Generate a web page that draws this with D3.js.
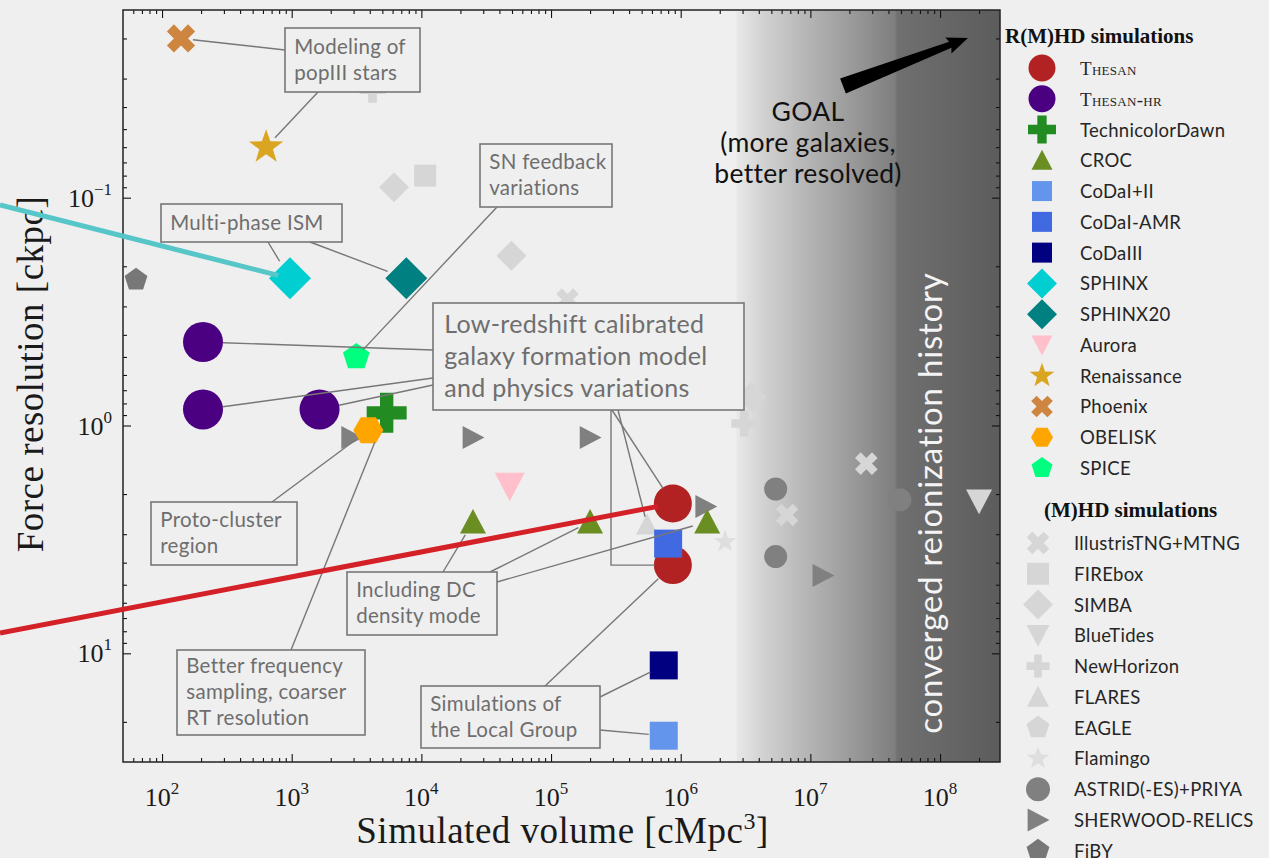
<!DOCTYPE html>
<html>
<head>
<meta charset="utf-8">
<script src="https://cdn.jsdelivr.net/npm/d3@7"></script>
<style>
body{margin:0;background:#efefef;overflow:hidden}
svg{display:block}
.serif{font-family:"Liberation Serif","Times New Roman",serif}
</style>
</head>
<body>
<div id="chart"></div>
<script>
var W = 1269, H = 858
var plot = {left:123, right:1000, top:10, bottom:762}

// R(M)HD simulations (legend order)
var rmhdNames = ["Thesan","Thesan-HR","TechnicolorDawn","CROC","CoDaI+II","CoDaI-AMR","CoDaIII",
                 "SPHINX","SPHINX20","Aurora","Renaissance","Phoenix","OBELISK","SPICE"]
// (M)HD simulations (legend order)
var mhdNames = ["IllustrisTNG+MTNG","FIREbox","SIMBA","BlueTides","NewHorizon","FLARES","EAGLE",
                "Flamingo","ASTRID(-ES)+PRIYA","SHERWOOD-RELICS","FiBY"]

// [simulation, volume cMpc^3, force resolution ckpc]
var rmhdPoints = [
  ["Thesan", 8.7e5, 2.2], ["Thesan", 8.7e5, 4.1],
  ["Thesan-HR", 207, 0.43], ["Thesan-HR", 207, 0.85], ["Thesan-HR", 1640, 0.85],
  ["TechnicolorDawn", 5400, 0.88],
  ["CROC", 2.5e4, 2.65], ["CROC", 2.0e5, 2.65], ["CROC", 1.6e6, 2.65],
  ["CoDaI+II", 7.4e5, 23],
  ["CoDaI-AMR", 8.0e5, 3.3],
  ["CoDaIII", 7.4e5, 11.3],
  ["SPHINX", 970, 0.226],
  ["SPHINX20", 7650, 0.226],
  ["Aurora", 4.8e4, 1.85],
  ["Renaissance", 635, 0.06],
  ["Phoenix", 140, 0.02],
  ["OBELISK", 3900, 1.05],
  ["SPICE", 3150, 0.5]
]
var mhdPoints = [
  ["IllustrisTNG+MTNG", 1.34e5, 0.28], ["IllustrisTNG+MTNG", 2.7e7, 1.47], ["IllustrisTNG+MTNG", 6.6e6, 2.47],
  ["FIREbox", 1.07e4, 0.08],
  ["SIMBA", 6150, 0.09], ["SIMBA", 4.95e4, 0.18], ["SIMBA", 3.5e6, 0.75],
  ["BlueTides", 2.0e8, 2.15],
  ["NewHorizon", 4200, 0.0336], ["NewHorizon", 3.1e6, 0.98],
  ["FLARES", 5.5e5, 2.72],
  ["Flamingo", 2.2e6, 3.24],
  ["ASTRID(-ES)+PRIYA", 5.4e6, 1.9], ["ASTRID(-ES)+PRIYA", 5.4e6, 3.76], ["ASTRID(-ES)+PRIYA", 4.9e7, 2.12],
  ["SHERWOOD-RELICS", 2900, 1.13], ["SHERWOOD-RELICS", 2.5e4, 1.13], ["SHERWOOD-RELICS", 2.0e5, 1.13],
  ["SHERWOOD-RELICS", 1.56e6, 2.27], ["SHERWOOD-RELICS", 1.25e7, 4.56],
  ["FiBY", 63, 0.229]
]

var xMajor = [1e2,1e3,1e4,1e5,1e6,1e7,1e8]
var xExp = ["2","3","4","5","6","7","8"]
var yMajor = [0.1, 1, 10]
var yExp = ["\u22121","0","1"]

// marker styles: shape, colour, plot half-size, legend half-size
var style = {
  "Thesan":["circle","#b22222",19,13.5],
  "Thesan-HR":["circle","#4b0082",20,13.5],
  "TechnicolorDawn":["plus","#228b22",20,14],
  "CROC":["triUp","#6b8e23",13,10.5],
  "CoDaI+II":["square","#6495ed",14,10],
  "CoDaI-AMR":["square","#4169e1",14,10],
  "CoDaIII":["square","#000080",14,10],
  "SPHINX":["diamond","#00ced1",21,15],
  "SPHINX20":["diamond","#008080",21,15],
  "Aurora":["triDown","#ffc0cb",15,10.5],
  "Renaissance":["star","#daa520",18,13],
  "Phoenix":["x","#cd853f",15,11.5],
  "OBELISK":["hexagon","#ffa500",15,11],
  "SPICE":["pentagon","#00ff7f",14,11],
  "IllustrisTNG+MTNG":["x","#d6d6d6",12,12],
  "FIREbox":["square","#d6d6d6",11,11],
  "SIMBA":["diamond","#d6d6d6",15,15],
  "BlueTides":["triDown","#d6d6d6",13,11.5],
  "NewHorizon":["plus","#d6d6d6",13,11.5],
  "FLARES":["triUp","#d6d6d6",11,11],
  "EAGLE":["pentagon","#d6d6d6",12,12],
  "Flamingo":["star","#dedede",12,12],
  "ASTRID(-ES)+PRIYA":["circle","#808080",11.5,12],
  "SHERWOOD-RELICS":["triRight","#808080",11.5,11.5],
  "FiBY":["pentagon","#777777",12,12]
}

var x = d3.scaleLog().domain([50, 2.9e8]).range([plot.left, plot.right])
var y = d3.scaleLog().domain([0.015, 30]).range([plot.top, plot.bottom])

function poly(pts){
  return "M" + pts.map(function(p){return p[0].toFixed(2)+","+p[1].toFixed(2)}).join("L") + "Z"
}
function regular(n, s, rot){
  return d3.range(n).map(function(i){var a = rot + i*2*Math.PI/n; return [s*Math.cos(a), s*Math.sin(a)]})
}
function shape(type, s){
  if(type=="circle") return d3.symbol(d3.symbolCircle, Math.PI*s*s)()
  if(type=="square") return poly([[-s,-s],[s,-s],[s,s],[-s,s]])
  if(type=="diamond") return poly([[0,-s],[s,0],[0,s],[-s,0]])
  if(type=="triUp") return poly([[0,-s],[s,s*0.9],[-s,s*0.9]])
  if(type=="triDown") return poly([[0,s],[s,-s*0.9],[-s,-s*0.9]])
  if(type=="triRight") return poly([[s,0],[-s*0.9,-s],[-s*0.9,s]])
  if(type=="hexagon") return poly(regular(6, s, 0))
  if(type=="pentagon") return poly(regular(5, s, -Math.PI/2))
  if(type=="star"){
    var pts = []
    for(var i=0;i<10;i++){var a = -Math.PI/2 + i*Math.PI/5, r = i%2 ? s*0.4 : s; pts.push([r*Math.cos(a), r*Math.sin(a)])}
    return poly(pts)
  }
  var t = s/3
  var p = [[-s,-t],[-t,-t],[-t,-s],[t,-s],[t,-t],[s,-t],[s,t],[t,t],[t,s],[-t,s],[-t,t],[-s,t]]
  if(type=="x"){var c = Math.SQRT1_2; p = p.map(function(q){return [(q[0]-q[1])*c,(q[0]+q[1])*c]})}
  return poly(p)
}

var svg = d3.select("#chart").append("svg").attr("width", W).attr("height", H)
  .attr("font-family", "Lato, 'Open Sans', sans-serif")
svg.append("rect").attr("width", W).attr("height", H).attr("fill", "#efefef")

var defs = svg.append("defs")
defs.append("clipPath").attr("id","clip").append("rect")
  .attr("x", plot.left).attr("y", plot.top).attr("width", plot.right-plot.left).attr("height", plot.bottom-plot.top)

// converged reionization region
var g0 = x(2.7e6), g1 = x(4.5e7)
var grad = defs.append("linearGradient").attr("id","conv").attr("gradientUnits","userSpaceOnUse")
  .attr("x1", g0).attr("x2", plot.right).attr("y1",0).attr("y2",0)
var span = plot.right - g0
;[[0,"#e8e8e8"],[0.1,"#d2d2d2"],[0.25,"#b8b8b8"],[0.45,"#989898"],[(g1-g0)/span,"#7e7e7e"],
  [(g1-g0+2)/span,"#707070"],[1,"#5c5c5c"]].forEach(function(s){
  grad.append("stop").attr("offset", s[0]).attr("stop-color", s[1])
})
svg.append("rect").attr("x", g0).attr("y", plot.top).attr("width", plot.right-g0)
  .attr("height", plot.bottom-plot.top).attr("fill","url(#conv)")

// markers
var marks = svg.append("g").attr("clip-path","url(#clip)")
function drawPoints(list){
  marks.selectAll(null).data(list).enter().append("path")
    .attr("transform", function(d){return "translate("+x(d[1])+","+y(d[2])+")"})
    .attr("d", function(d){var st = style[d[0]]; return shape(st[0], st[2])})
    .attr("fill", function(d){return style[d[0]][1]})
}
drawPoints(mhdPoints)
drawPoints(rmhdPoints)

// converged text
svg.append("text").attr("transform","translate("+(x(8e7)+15)+","+((plot.top+plot.bottom)/2+117)+") rotate(-90)")
  .attr("text-anchor","middle").attr("fill","#f4f4f4").attr("font-size",33)
  .attr("letter-spacing",0.8).text("converged reionization history")

// axes with inward ticks
function minors(dom){
  var out = []
  for(var k=-3;k<10;k++) for(var m=2;m<10;m++){var v = m*Math.pow(10,k); if(v>dom[0] && v<dom[1]) out.push(v)}
  return out
}
var axes = [
  [d3.axisBottom(x), "translate(0,"+plot.bottom+")", xMajor, minors(x.domain())],
  [d3.axisTop(x), "translate(0,"+plot.top+")", xMajor, minors(x.domain())],
  [d3.axisLeft(y), "translate("+plot.left+",0)", yMajor, minors(y.domain())],
  [d3.axisRight(y), "translate("+plot.right+",0)", yMajor, minors(y.domain())]
]
axes.forEach(function(a){
  [[a[2],-8],[a[3],-4]].forEach(function(t){
    var g = svg.append("g").attr("transform", a[1])
      .call(a[0].tickValues(t[0]).tickSize(t[1]).tickFormat(""))
    g.select(".domain").remove()
    g.selectAll("line").attr("stroke","#111").attr("stroke-width",1.1)
  })
})
svg.append("rect").attr("x", plot.left).attr("y", plot.top).attr("width", plot.right-plot.left)
  .attr("height", plot.bottom-plot.top).attr("fill","none").attr("stroke","#222").attr("stroke-width",1.5)

// tick labels
svg.selectAll(null).data(xMajor).enter().append("text").attr("class","serif")
  .attr("x", function(d){return x(d)}).attr("y", plot.bottom+44).attr("text-anchor","middle")
  .attr("font-size",26).attr("fill","#1a1a1a")
  .each(function(d,i){
    var t = d3.select(this)
    t.append("tspan").text("10")
    t.append("tspan").attr("dy",-12).attr("font-size",17).text(xExp[i])
  })
svg.selectAll(null).data(yMajor).enter().append("text").attr("class","serif")
  .attr("x", plot.left-11).attr("y", function(d){return y(d)+9}).attr("text-anchor","end")
  .attr("font-size",26).attr("fill","#1a1a1a")
  .each(function(d,i){
    var t = d3.select(this)
    t.append("tspan").text("10")
    t.append("tspan").attr("dy",-12).attr("font-size",17).text(yExp[i])
  })

// axis titles
var xt = svg.append("text").attr("class","serif").attr("x",(plot.left+plot.right)/2+1).attr("y",843)
  .attr("text-anchor","middle").attr("font-size",37).attr("fill","#1a1a1a").attr("letter-spacing",0.5)
xt.append("tspan").text("Simulated volume [cMpc")
xt.append("tspan").attr("dy",-14).attr("font-size",24).text("3")
xt.append("tspan").attr("dy",14).text("]")
svg.append("text").attr("class","serif").attr("transform","translate(43,374) rotate(-90)")
  .attr("text-anchor","middle").attr("font-size",37).attr("fill","#1a1a1a").attr("letter-spacing",0.5)
  .text("Force resolution [ckpc]")

// annotations
function findPoint(ref){
  var list = rmhdPoints.concat(mhdPoints).filter(function(p){return p[0]==ref[0]})
  var p = list[ref[1]]
  return [x(p[1]), y(p[2])]
}
function shorten(a, b, gap){
  var dx = b[0]-a[0], dy = b[1]-a[1], L = Math.sqrt(dx*dx+dy*dy)
  return [b[0]-dx/L*gap, b[1]-dy/L*gap]
}

var annotations = [
  {text:["Modeling of","popIII stars"], box:[285,28,135,64], size:20.5,
   links:[{from:[285,50], to:["Phoenix",0], gap:12},{from:[318,92], to:["Renaissance",0], gap:13}]},
  {text:["SN feedback","variations"], box:[480,144,132,63], size:20.5,
   links:[{from:[497,207], to:["SPICE",0], gap:10}]},
  {text:["Multi-phase ISM"], box:[161,204,181,38], size:20.5,
   links:[{from:[268,242], to:["SPHINX",0], gap:20},{from:[310,242], to:["SPHINX20",0], gap:20}]},
  {text:["Low-redshift calibrated","galaxy formation model","and physics variations"], box:[433,303,311,107], size:25,
   links:[{from:[433,350], to:["Thesan-HR",0], gap:20},{from:[433,378], to:["Thesan-HR",1], gap:20},
          {from:[433,385], to:["Thesan-HR",2], gap:20},{from:[612,410], to:["Thesan",0], gap:18},
          {from:[618,410], to:["FLARES",0], gap:8},{from:[611,410], to:["Thesan",1], gap:18, angle:true}]},
  {text:["Proto-cluster","region"], box:[151,502,146,63], size:20.5,
   links:[{from:[272,502], to:["OBELISK",0], gap:15}]},
  {text:["Better frequency","sampling, coarser","RT resolution"], box:[177,650,188,85], size:20.5,
   links:[{from:[291,650], to:["TechnicolorDawn",0], gap:32}]},
  {text:["Including DC","density mode"], box:[347,572,150,63], size:20.5,
   links:[{from:[443,572], to:["CROC",0], gap:15},{from:[490,572], to:["CROC",1], gap:13},{from:[497,582], to:["CROC",2], gap:15}]},
  {text:["Simulations of","the Local Group"], box:[421,686,179,62], size:20.5,
   links:[{from:[545,686], to:["Thesan",1], gap:20},{from:[600,697], to:["CoDaIII",0], gap:15},{from:[600,730], to:["CoDaI+II",0], gap:15}]}
]

var ann = svg.append("g")
annotations.forEach(function(a){
  a.links.forEach(function(l){
    var p = findPoint(l.to)
    if(l.angle){
      ann.append("path").attr("d","M"+l.from[0]+","+l.from[1]+"V"+p[1]+"H"+(p[0]-l.gap))
        .attr("fill","none").attr("stroke","#777").attr("stroke-width",1.4)
    } else {
      var e = shorten(l.from, p, l.gap)
      ann.append("line").attr("x1",l.from[0]).attr("y1",l.from[1]).attr("x2",e[0]).attr("y2",e[1])
        .attr("stroke","#777").attr("stroke-width",1.4)
    }
  })
})
annotations.forEach(function(a){
  var b = a.box, lh = a.size*1.27
  ann.append("rect").attr("x",b[0]).attr("y",b[1]).attr("width",b[2]).attr("height",b[3])
    .attr("fill","#efefef").attr("stroke","#777").attr("stroke-width",1.6)
  var pad = (b[3] - a.text.length*lh)/2
  a.text.forEach(function(s,i){
    ann.append("text").attr("x", b[0]+a.size*0.45).attr("y", b[1]+pad+i*lh+lh*0.76)
      .attr("font-size",a.size).attr("fill","#6e6e6e").attr("letter-spacing",0.3).text(s)
  })
})

// thick callout lines leaving the figure
var callouts = [
  {from:[0,205], to:["SPHINX",0], gap:12, color:"#56c6c8"},
  {from:[0,633], to:["Thesan",0], gap:15, color:"#d42027"}
]
callouts.forEach(function(c){
  var p = findPoint(c.to), e = shorten(c.from, p, c.gap)
  svg.append("line").attr("x1",c.from[0]).attr("y1",c.from[1]).attr("x2",e[0]).attr("y2",e[1])
    .attr("stroke",c.color).attr("stroke-width",5)
})

// GOAL arrow
var S = [843,86], T = [968,38]
var dx = T[0]-S[0], dy = T[1]-S[1], L = Math.sqrt(dx*dx+dy*dy)
var u = [dx/L, dy/L], n = [-u[1], u[0]]
function at(d, w){return [S[0]+u[0]*d+n[0]*w, S[1]+u[1]*d+n[1]*w]}
svg.append("path").attr("fill","#000")
  .attr("d", poly([at(0,8), at(L-19,3.2), at(L-21,8.5), T, at(L-21,-8.5), at(L-19,-3.2), at(0,-8)]))
var goal = ["GOAL","(more galaxies,","better resolved)"]
svg.selectAll(null).data(goal).enter().append("text")
  .attr("x",808).attr("y",function(d,i){return 121+i*31}).attr("text-anchor","middle")
  .attr("font-size",26.5).attr("fill","#111").attr("letter-spacing",0.3).text(function(d){return d})

// legends
function legend(title, names, tx, ty, mx, lx, y0){
  svg.append("text").attr("class","serif").attr("x",tx).attr("y",ty).attr("font-weight","bold")
    .attr("font-size",21).attr("fill","#111").text(title)
  var rows = svg.selectAll(null).data(names).enter().append("g")
    .attr("transform",function(d,i){return "translate(0,"+(y0+i*30.77)+")"})
  rows.append("path").attr("transform","translate("+mx+",0)")
    .attr("d",function(d){var st = style[d]; return shape(st[0], st[3])})
    .attr("fill",function(d){return style[d][1]})
  rows.append("text").attr("x",lx).attr("y",7)
    .attr("font-size",18.5).attr("fill","#262626").attr("letter-spacing",0.3)
    .each(function(d){
      var t = d3.select(this)
      if(d.indexOf("Thesan")==0){
        t.attr("class","serif").style("font-variant","small-caps").attr("font-size",19)
         .text(d=="Thesan" ? "Thesan" : "Thesan-hr")
      } else t.text(d)
    })
}
legend("R(M)HD simulations", rmhdNames, 1005, 43, 1042, 1080, 68)
legend("(M)HD simulations", mhdNames, 1044, 517, 1038, 1074, 543)
</script>
</body>
</html>
